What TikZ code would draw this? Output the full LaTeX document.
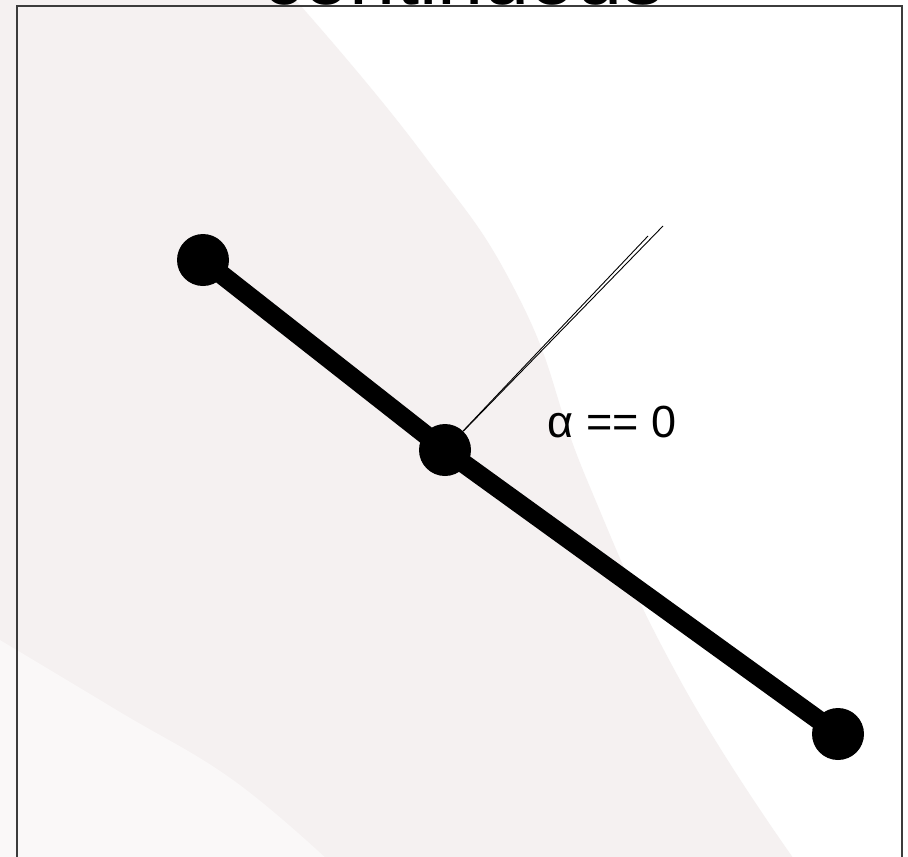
\documentclass[tikz,border=0pt]{standalone}
\usepackage{fontspec}
\setmainfont{Liberation Sans}
\definecolor{blobpink}{RGB}{245,241,241}
\definecolor{blobpale}{RGB}{250,248,248}
\definecolor{framegray}{RGB}{60,60,60}
\tikzset{
  dotnode/.style={circle, fill=black, inner sep=0pt, minimum size=52pt},
  barline/.style={line width=19pt, black},
  thinline/.style={line width=0.9pt, black},
  framestyle/.style={line width=1.8pt, framegray},
  labeltext/.style={font=\fontsize{45}{54}\selectfont, inner sep=0pt},
  titletext/.style={font=\fontsize{83}{96}\selectfont, inner sep=0pt, anchor=base}
}
\begin{document}
\begin{tikzpicture}[x=1pt,y=-1pt]
\useasboundingbox (0,0) rectangle (908,857);
\clip (0,0) rectangle (908,857);
\fill[white] (0,0) rectangle (908,857);
% background blob
\fill[blobpink] plot[smooth, tension=0.8] coordinates {(292,-4) (420,150) (520,300) (587,480) (680,680) (796,862)} -- (0,862) -- (0,-4) -- cycle;
\fill[blobpale] plot[smooth, tension=0.7] coordinates {(0,640) (120,712) (233,780) (330,862)} -- (0,862) -- cycle;
% title
\node[titletext] (title) at (463,4) {continuous};
% frame
\draw[framestyle] (17,870) -- (17,6) -- (902,6) -- (902,870);
% dots
\node[dotnode] (A) at (203,260) {};
\node[dotnode] (B) at (445,450) {};
\node[dotnode] (C) at (838,734) {};
\draw[barline] (A.center) -- (B.center);
\draw[barline] (B.center) -- (C.center);
% thin double line
\coordinate (T1) at (663,226);
\coordinate (T2) at (648,236);
\draw[thinline] (B) -- (T1);
\draw[thinline] (B) -- (T2);
% label
\node[labeltext] (L) at (612,422) {α == 0};
\end{tikzpicture}
\end{document}
